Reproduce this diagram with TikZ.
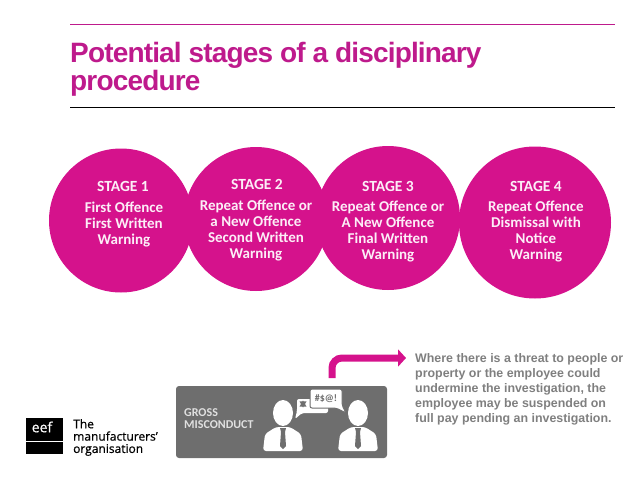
\documentclass[tikz,border=0pt]{standalone}
\usepackage{fontspec}
\setmainfont{Liberation Sans}
\newfontfamily\stagefont{Carlito}
\newfontfamily\logofont[FakeBold=0.5]{Open Sans}
\usetikzlibrary{arrows.meta}

\definecolor{stagepink}{HTML}{D5128C}
\definecolor{titlepink}{HTML}{BE1A8C}
\definecolor{notegrey}{HTML}{7F7F7F}
\definecolor{boxgrey}{HTML}{6E6E6E}

\tikzset{
    stagecircle/.style={circle, fill=stagepink, inner sep=0pt, minimum size=#1},
    stagehead/.style={text=white!93!stagepink, font=\stagefont\bfseries\fontsize{15.5}{16}\selectfont},
    stagebody/.style={text=white!93!stagepink, align=center, font=\stagefont\bfseries\fontsize{15}{16}\selectfont},
    bentarrow/.style={draw=stagepink, line width=7pt, rounded corners=10pt, -{Triangle[length=8pt, width=17pt]}},
}

% one man of the icon, head centre at (#1,413)
\newcommand{\manicon}[1]{
    \fill[white] (#1,413) ellipse (10 and 13);
    \fill[white, rounded corners=3pt] (#1-20,451) -- (#1-18,434) -- (#1-7,427) -- (#1+7,427) -- (#1+18,434) -- (#1+20,451) -- cycle;
    \fill[boxgrey] (#1-3,428) -- (#1+3,428) -- (#1+2,432) -- (#1+3,446) -- (#1,449) -- (#1-3,446) -- (#1-2,432) -- cycle;
}

\begin{document}
\begin{tikzpicture}[x=1pt, y=-1pt]
    \useasboundingbox (0,0) rectangle (638,479);

    % Rules and title
    \draw[titlepink, line width=1pt] (70,24.5) -- (615,24.5);
    \draw[black, line width=1pt] (70,107) -- (615,107);
    \node[anchor=base west, inner sep=0pt, text=titlepink, align=left,
          font=\bfseries\fontsize{28}{25}\selectfont] (title) at (70,90)
          {\addfontfeature{LetterSpace=-3.0}Potential stages of a disciplinary\\\addfontfeature{LetterSpace=-3.0}procedure};

    % Stage circles
    \node[stagecircle=144pt] (stageone) at (121,220.5) {};
    \node[stagecircle=144pt] (stagetwo) at (256,219) {};
    \node[stagecircle=144pt] (stagethree) at (388,218) {};
    \node[stagecircle=152pt] (stagefour) at (535,222.5) {};

    % Stage texts
    \node[stagehead] (headone) at (123,186) {STAGE 1};
    \node[stagebody] (bodyone) at (124,224) {First Offence\\First Written\\Warning};
    \node[stagehead] (headtwo) at (257,184) {STAGE 2};
    \node[stagebody] (bodytwo) at (256,230) {Repeat Offence or\\a New Offence\\Second Written\\Warning};
    \node[stagehead] (headthree) at (388,186) {STAGE 3};
    \node[stagebody] (bodythree) at (388,231) {Repeat Offence or\\A New Offence\\Final Written\\Warning};
    \node[stagehead] (headfour) at (536,186) {STAGE 4};
    \node[stagebody] (bodyfour) at (536,231) {Repeat Offence\\Dismissal with\\Notice\\Warning};

    % Gross misconduct box
    \node[fill=boxgrey, rounded corners=3pt, minimum width=211pt, minimum height=72pt, inner sep=0pt] (gross) at (281.5,422) {};
    \node[anchor=west, inner sep=0pt, text=white!88!black, align=left,
          font=\stagefont\bfseries\fontsize{12}{12}\selectfont] (grosstext) at (184,419) {GROSS\\MISCONDUCT};

    % Men and speech bubbles
    \manicon{283}
    \manicon{358}
    \fill[white, rounded corners=2pt] (297,399) -- (328,399) -- (328,413) -- (302,413) -- (295,419) -- (297,411) -- cycle;
    \fill[boxgrey] (303,404) ++(90:3.5) -- ++(-60:7) -- ++(180:7) -- cycle;
    \fill[boxgrey] (303,404) ++(-90:3.5) -- ++(60:7) -- ++(180:7) -- cycle;
    \filldraw[fill=white, draw=boxgrey, line width=1pt, rounded corners=2pt] (310,389) -- (342,389) -- (342,405) -- (346,413) -- (336,408) -- (310,408) -- cycle;
    \node[text=boxgrey, inner sep=0pt, font=\stagefont\bfseries\fontsize{10}{10}\selectfont] (swear) at (326,398.5) {\#\$@!};

    % Note and arrow
    \coordinate (arrowstart) at (332,378);
    \coordinate (arrowend) at (406,358);
    \draw[bentarrow] (arrowstart) |- (arrowend);
    \node[anchor=north west, inner sep=0pt, text=notegrey, align=left,
          font=\bfseries\fontsize{12.4}{15}\selectfont] (note) at (415,353)
          {Where there is a threat to people or\\property or the employee could\\undermine the investigation, the\\employee may be suspended on\\full pay pending an investigation.};

    % Logo
    \fill[black] (26,418) rectangle (63,440.5);
    \fill[black] (26,442) rectangle (63,454);
    \node[text=white, inner sep=0pt, font=\logofont\fontsize{14}{14}\selectfont] (eef) at (42,427) {eef};
    \node[anchor=north west, inner sep=0pt, align=left, text=black,
          font=\logofont\fontsize{12}{12.3}\selectfont] (logotext) at (73,419) {The\\manufacturers’\\organisation};
\end{tikzpicture}
\end{document}
